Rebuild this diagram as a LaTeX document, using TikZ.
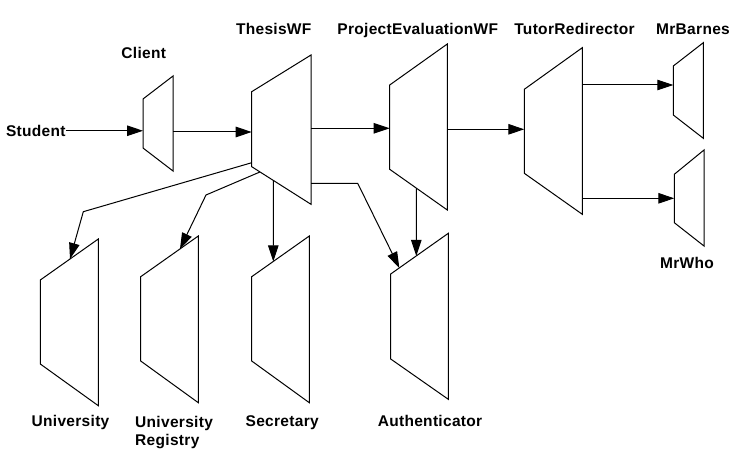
\documentclass[tikz,border=0pt]{standalone}
\usepackage{fontspec}
\setmainfont[LetterSpace=2]{Liberation Sans}
\usetikzlibrary{arrows.meta,calc}
\tikzset{
  lbl/.style={inner sep=0pt,font=\fontsize{15.5}{18.3}\selectfont\bfseries},
  shp/.style={draw=black,line width=1pt,line join=miter},
  conn/.style={draw=black,line width=1pt,-{Triangle[length=16pt,width=10.5pt]}},
}
% name, xl, xr, y-topleft, y-botleft, y-topright, y-botright
\newcommand\mytrap[7]{%
  \coordinate (#1-tl) at (#2,#4);
  \coordinate (#1-bl) at (#2,#5);
  \coordinate (#1-tr) at (#3,#6);
  \coordinate (#1-br) at (#3,#7);
  \draw[shp] (#1-tl) -- (#1-tr) -- (#1-br) -- (#1-bl) -- cycle;
}
\begin{document}
\begin{tikzpicture}[x=1pt,y=-1pt]
\useasboundingbox (0,0) rectangle (743,462);
% shapes
\mytrap{Client}{143}{173}{99}{148}{76}{171}
\mytrap{Thesis}{251.7}{311}{91.7}{166.7}{55}{204.3}
\mytrap{PEWF}{389.7}{447.3}{85}{169.3}{44}{210}
\mytrap{TR}{524.3}{582.3}{89.3}{173.3}{47.7}{214.3}
\mytrap{Barnes}{673.3}{703.3}{66}{115}{42.7}{138.3}
\mytrap{Who}{674.3}{704}{174.3}{222.7}{150}{246}
\mytrap{Uni}{40.3}{98.3}{280}{364}{239}{405.7}
\mytrap{Reg}{140.7}{198.3}{276.7}{361}{236}{402.7}
\mytrap{Sec}{251.7}{309.3}{276.7}{361}{236}{402.7}
\mytrap{Auth}{390.7}{448.3}{274}{359}{233.3}{399.3}
% labels
\node[lbl,anchor=base] (lStudent) at (35.8,136.3) {Student};
\node[lbl,anchor=base] (lClient) at (143.7,58.2) {Client};
\node[lbl,anchor=base] (lThesis) at (273.7,34.6) {ThesisWF};
\node[lbl,anchor=base] (lPEWF) at (417.7,34.6) {ProjectEvaluationWF};
\node[lbl,anchor=base] (lTR) at (574.5,34.6) {TutorRedirector};
\node[lbl,anchor=base] (lBarnes) at (693,34.6) {MrBarnes};
\node[lbl,anchor=base] (lWho) at (687,268.9) {MrWho};
\node[lbl,anchor=base] (lUni) at (70.5,426.6) {University};
\node[lbl,anchor=north west,align=left] (lReg) at (135,416.2) {University\\Registry};
\node[lbl,anchor=base] (lSec) at (282.2,426.6) {Secretary};
\node[lbl,anchor=base] (lAuth) at (430,426.3) {Authenticator};
% ports
\coordinate (Client-out) at (173,132);
\coordinate (Thesis-out) at (311,128.3);
\coordinate (PEWF-out) at (447.3,129.3);
\coordinate (TR-out1) at (582.3,85);
\coordinate (TR-out2) at (582.3,198.3);
\coordinate (Thesis-auth) at (311,183.3);
\coordinate (bendU) at (83.3,211.7);
\coordinate (bendR) at (206,195);
\coordinate (bendA) at (357.7,183.3);
% connectors
\draw[conn] (lStudent.east) -- (lStudent.east -| Client-tl);
\draw[conn] (Client-out) -- (Client-out -| Thesis-tl);
\draw[conn] (Thesis-out) -- (Thesis-out -| PEWF-tl);
\draw[conn] (PEWF-out) -- (PEWF-out -| TR-tl);
\draw[conn] (TR-out1) -- (TR-out1 -| Barnes-tl);
\draw[conn] (TR-out2) -- (TR-out2 -| Who-tl);
\draw[conn] ($(Thesis-tl)!0.947!(Thesis-bl)$) -- (bendU) -- ($(Uni-tl)!0.512!(Uni-tr)$);
\draw[conn] ($(Thesis-bl)!0.14!(Thesis-br)$) -- (bendR) -- ($(Reg-tl)!0.682!(Reg-tr)$);
\draw[conn] ($(Thesis-bl)!0.364!(Thesis-br)$) -- ($(Sec-tl)!0.375!(Sec-tr)$);
\draw[conn] (Thesis-auth) -- (bendA) -- ($(Auth-tl)!0.15!(Auth-tr)$);
\draw[conn] ($(PEWF-bl)!0.462!(PEWF-br)$) -- ($(Auth-tl)!0.444!(Auth-tr)$);
\end{tikzpicture}
\end{document}
